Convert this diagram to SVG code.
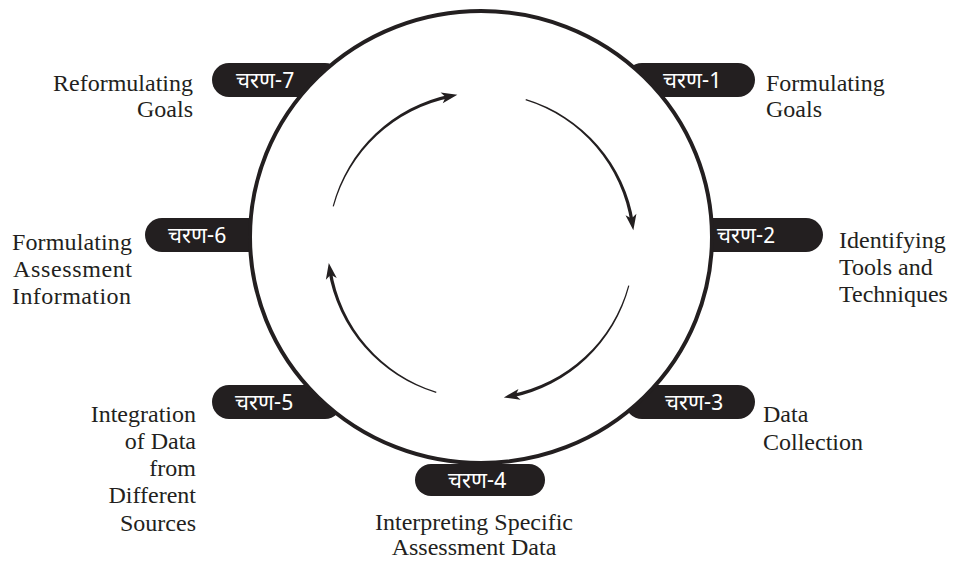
<svg xmlns="http://www.w3.org/2000/svg" width="954" height="566" viewBox="0 0 954 566">
<style>
.pill{fill:#231f20}
.pt{fill:#ffffff;font-family:"Noto Sans Devanagari","Noto Sans","DejaVu Sans",sans-serif;font-size:22px}
.lb{fill:#231f20;font-family:"Liberation Serif","DejaVu Serif",serif;font-size:24px}
.taper{fill:#231f20;stroke:none}
.arc{fill:none;stroke:none}
</style>
<defs>
<marker id="ah" viewBox="-10 -6 18 12" markerWidth="18" markerHeight="12" refX="0" refY="0" orient="auto" markerUnits="userSpaceOnUse">
<polygon points="-9,-5.5 7,0 -9,5.5 -5,0" fill="#231f20"/>
</marker>
</defs>
<rect width="954" height="566" fill="#ffffff"/>
<g id="step7"><rect class="pill" x="212" y="63" width="130" height="34" rx="17"/></g>
<g id="step1"><rect class="pill" x="625" y="63" width="130" height="34" rx="17"/></g>
<g id="step2"><rect class="pill" x="693" y="218" width="130" height="34" rx="17"/></g>
<g id="step3"><rect class="pill" x="625" y="385" width="130" height="34" rx="17"/></g>
<g id="step5"><rect class="pill" x="212" y="385" width="130" height="34" rx="17"/></g>
<g id="step6"><rect class="pill" x="145" y="218" width="130" height="34" rx="17"/></g>
<g id="cycle"><ellipse cx="481" cy="237" rx="231" ry="226" fill="#ffffff" stroke="#231f20" stroke-width="4"/></g>
<g id="step4"><rect class="pill" x="415" y="464" width="130" height="32" rx="16"/></g>
<g id="pill-texts">
<text class="pt" x="236" y="88">चरण-7</text>
<text class="pt" x="663" y="88">चरण-1</text>
<text class="pt" x="717" y="243">चरण-2</text>
<text class="pt" x="665" y="410">चरण-3</text>
<text class="pt" x="448" y="488">चरण-4</text>
<text class="pt" x="235" y="410">चरण-5</text>
<text class="pt" x="168" y="243">चरण-6</text>
</g>
<g id="labels">
<text class="lb" x="766" y="91">Formulating<tspan x="766" y="117">Goals</tspan></text>
<text class="lb" x="839" y="248">Identifying<tspan x="839" y="275">Tools and</tspan><tspan x="839" y="302">Techniques</tspan></text>
<text class="lb" x="763" y="422">Data<tspan x="763" y="450">Collection</tspan></text>
<text class="lb" x="474" y="530" text-anchor="middle">Interpreting Specific<tspan x="474" y="555">Assessment Data</tspan></text>
<text class="lb" x="196" y="422" text-anchor="end">Integration<tspan x="196" y="449">of Data</tspan><tspan x="196" y="476">from</tspan><tspan x="196" y="503">Different</tspan><tspan x="196" y="531">Sources</tspan></text>
<text class="lb" x="12" y="250" textLength="120" lengthAdjust="spacing">Formulating</text>
<text class="lb" x="13" y="277" textLength="119" lengthAdjust="spacing">Assessment</text>
<text class="lb" x="12" y="304" textLength="119" lengthAdjust="spacing">Information</text>
<text class="lb" x="193" y="91" text-anchor="end">Reformulating<tspan x="193" y="117">Goals</tspan></text>
</g>
<g id="connectors">
<path class="taper" d="M332.63,206.25 A154.2,154.2 0 0 1 450.16,94.41 L450.84,97.74 A151.8,151.8 0 0 0 333.79,206.56 Z"/>
<path class="taper" d="M525.91,99.11 A154.2,154.2 0 0 1 634.00,223.13 L630.64,223.64 A151.8,151.8 0 0 0 525.56,100.26 Z"/>
<path class="taper" d="M629.37,285.75 A154.2,154.2 0 0 1 511.05,397.75 L510.39,394.42 A151.8,151.8 0 0 0 628.21,285.44 Z"/>
<path class="taper" d="M436.09,392.89 A154.2,154.2 0 0 1 328.20,270.20 L331.56,269.67 A151.8,151.8 0 0 0 436.44,391.74 Z"/>
<path class="arc" d="M333.2,206.4 A153,153 0 0 1 450.5,96.1" marker-end="url(#ah)"/>
<path class="arc" d="M525.7,99.7 A153,153 0 0 1 632.3,223.4" marker-end="url(#ah)"/>
<path class="arc" d="M628.8,285.6 A153,153 0 0 1 510.7,396.1" marker-end="url(#ah)"/>
<path class="arc" d="M436.3,392.3 A153,153 0 0 1 329.9,269.9" marker-end="url(#ah)"/>
</g>
</svg>
